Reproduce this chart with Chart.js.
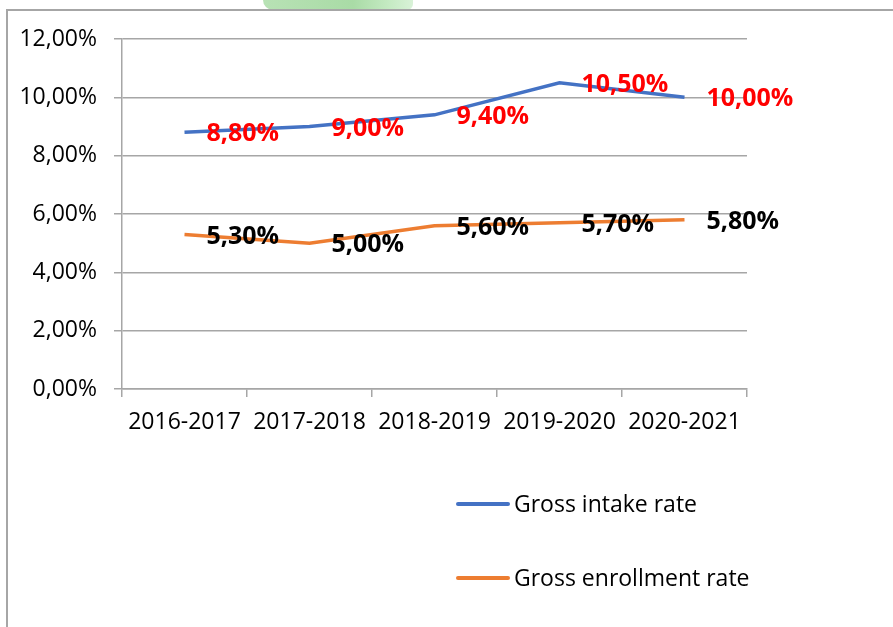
<!DOCTYPE html>
<html>
<head>
<meta charset="utf-8">
<script src="https://cdn.jsdelivr.net/npm/chart.js@4.4.0/dist/chart.umd.min.js"></script>
<style>
  html, body { margin: 0; padding: 0; background: #fff; }
  #wrap { position: relative; width: 893px; height: 627px; overflow: hidden; font-family: "Open Sans", sans-serif; }
  #smudge { position: absolute; left: 263px; top: -10px; width: 150px; height: 20px; border-radius: 0 0 6px 10px;
            background: linear-gradient(90deg, #b8e2b5 0%, #a9dba6 60%, #c6ebc4 85%, #d9f2d8 100%); }
  #frame { position: absolute; left: 6px; top: 9px; width: 900px; height: 700px; border-left: 2px solid #a6a6a6; border-top: 2px solid #a6a6a6; }
  #myChart { position: absolute; left: 0; top: 0; }
  #legend { position: absolute; left: 456px; top: 0; }
  .item { position: absolute; left: 0; white-space: nowrap; font-size: 23px; color: #000; }
  .item span.line { position: absolute; left: 0; width: 54px; height: 4px; border-radius: 2px; }
  .item span.txt { position: absolute; left: 58px; }
</style>
</head>
<body>
<div id="wrap">
  <div id="smudge"></div>
  <div id="frame"></div>
  <canvas id="myChart" width="893" height="627"></canvas>
  <div id="legend"></div>
</div>
<script>
var years = ["2016-2017", "2017-2018", "2018-2019", "2019-2020", "2020-2021"];
var intakeRate = [8.8, 9.0, 9.4, 10.5, 10.0];
var enrollmentRate = [5.3, 5.0, 5.6, 5.7, 5.8];
var seriesNames = ["Gross intake rate", "Gross enrollment rate"];

function pct(v) {
  return v.toFixed(2).replace('.', ',') + '%';
}

// draws the value labels to the right of each point
var valueLabels = {
  id: 'valueLabels',
  afterDatasetsDraw: function(chart) {
    var ctx = chart.ctx;
    ctx.save();
    ctx.font = 'bold 25px "Open Sans"';
    ctx.textAlign = 'left';
    ctx.textBaseline = 'middle';
    chart.data.datasets.forEach(function(ds, i) {
      var meta = chart.getDatasetMeta(i);
      ctx.fillStyle = ds.labelColor;
      meta.data.forEach(function(pt, j) {
        ctx.fillText(pct(ds.data[j]), pt.x + 22, pt.y + 2);
      });
    });
    ctx.restore();
  }
};

var chart = document.getElementById("myChart");
var myChart = new Chart(chart, {
  type: 'line',
  data: {
    labels: years,
    datasets: [
      {
        data: intakeRate,
        label: seriesNames[0],
        borderColor: "#4472C4",
        labelColor: "#FF0000",
        borderWidth: 3.5,
        pointRadius: 0,
        tension: 0,
        fill: false
      },
      {
        data: enrollmentRate,
        label: seriesNames[1],
        borderColor: "#ED7D31",
        labelColor: "#000000",
        borderWidth: 3.5,
        pointRadius: 0,
        tension: 0,
        fill: false
      }
    ]
  },
  options: {
    responsive: false,
    animation: false,
    layout: { padding: { left: 0, top: 39, right: 146, bottom: 0 } },
    plugins: { legend: { display: false }, tooltip: { enabled: false } },
    scales: {
      x: {
        offset: true,
        grid: { offset: true, drawOnChartArea: false, tickLength: 8, color: "#a6a6a6", lineWidth: 1.5 },
        border: { color: "#a6a6a6", width: 1.5 },
        ticks: { color: "#000", padding: 12, maxRotation: 0, font: { family: "Open Sans", size: 23 } },
        afterFit: function(s) { s.height = 627 - 389; }
      },
      y: {
        min: 0,
        max: 12,
        grid: { tickLength: 8, color: "#a6a6a6", lineWidth: 1.5 },
        border: { color: "#a6a6a6", width: 1.5 },
        ticks: { stepSize: 2, color: "#000", padding: 17, font: { family: "Open Sans", size: 23 },
                 callback: function(v) { return pct(v); } },
        afterFit: function(s) { s.width = 122; }
      }
    }
  },
  plugins: [valueLabels]
});

// legend as html, stacked like the original
var legend = document.getElementById('legend');
var legendTops = [504, 578];
myChart.data.datasets.forEach(function(ds, i) {
  var item = document.createElement('div');
  item.className = 'item';
  item.style.top = legendTops[i] + 'px';
  item.innerHTML = '<span class="line" style="top:-2px;background:' + ds.borderColor + '"></span>' +
                   '<span class="txt" style="top:-17px">' + ds.label + '</span>';
  legend.appendChild(item);
});
</script>
</body>
</html>
